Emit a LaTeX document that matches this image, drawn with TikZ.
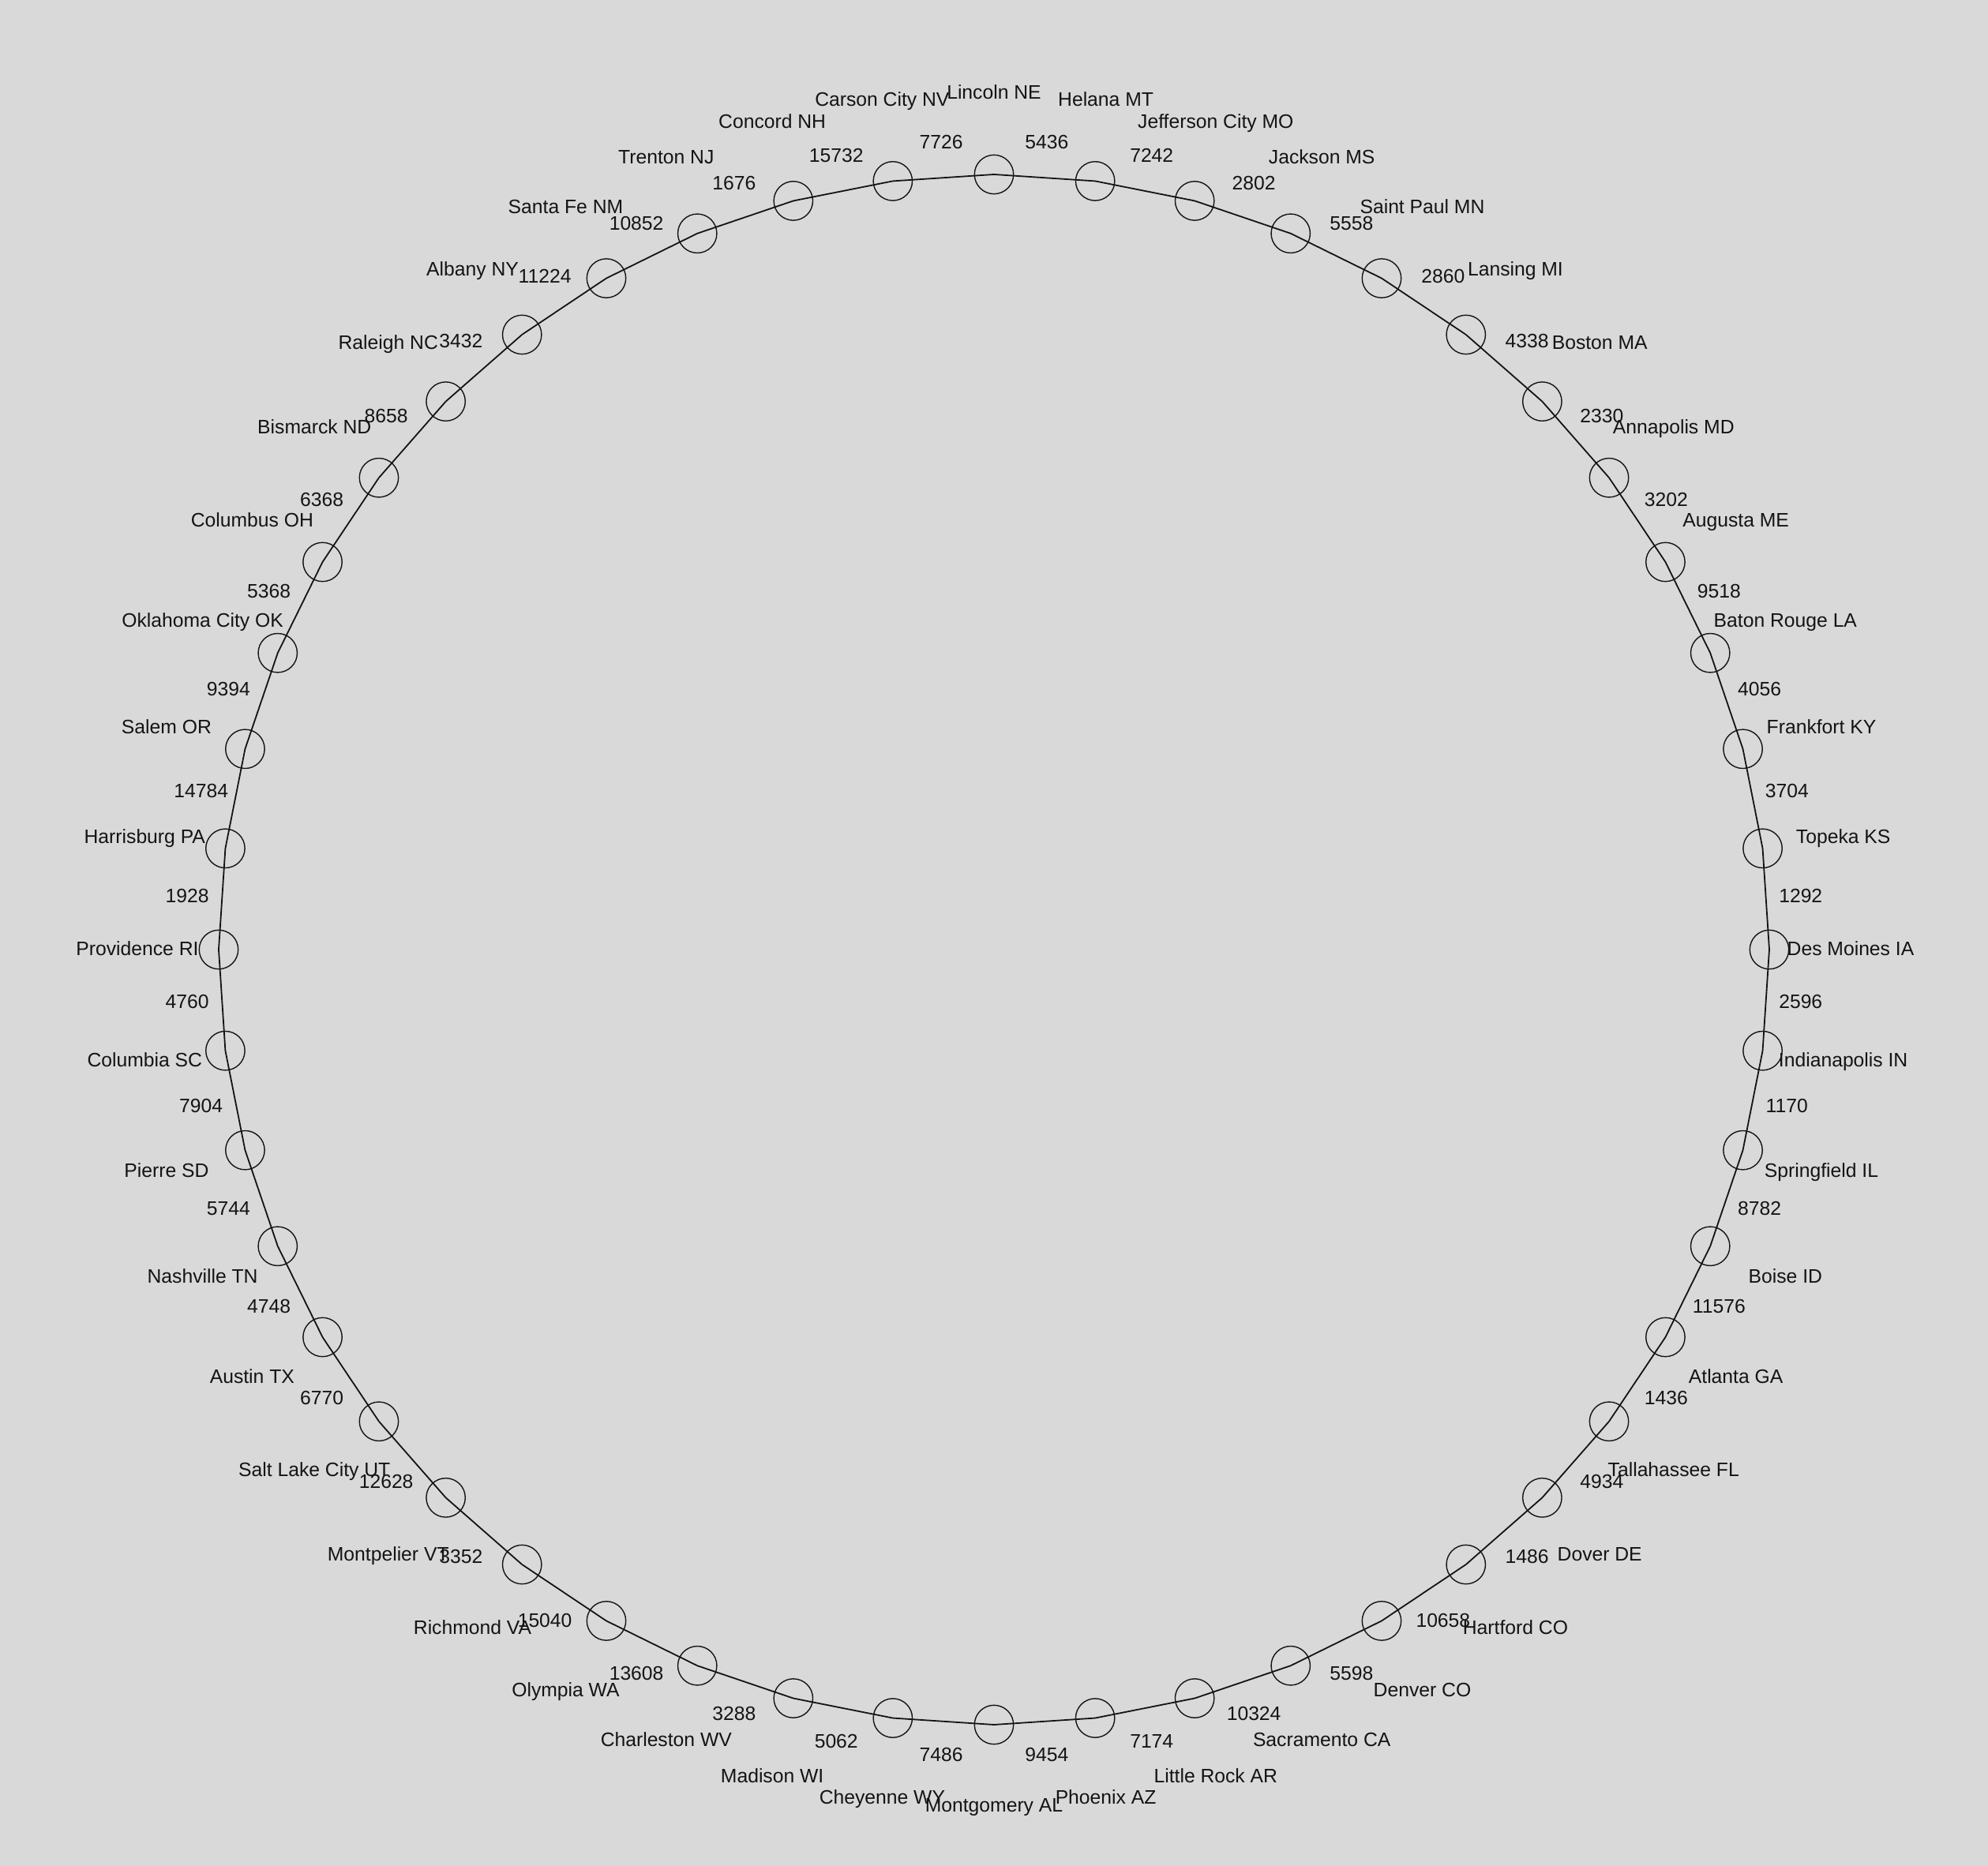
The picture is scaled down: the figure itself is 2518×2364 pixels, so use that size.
\documentclass[tikz,border=0pt]{standalone}
\usepackage{tikz}
\usepackage{xcolor}
\usepackage{fontspec}
\setmainfont{Liberation Sans}
\usetikzlibrary{positioning,calc}
\definecolor{bggray}{RGB}{217,217,217}
\definecolor{inkblack}{RGB}{20,20,20}

\begin{document}
\begin{tikzpicture}[
    x=0.5pt, y=0.5pt,
    every node/.style={font=\fontsize{12.35}{14}\selectfont, text=inkblack},
    city/.style={circle, draw=inkblack, line width=0.7pt, minimum size=24.7pt, inner sep=0pt},
    cityname/.style={inner sep=0pt, text height=0.72em, text depth=0pt},
    dist/.style={inner sep=0pt, text height=0.72em, text depth=0pt},
    tour/.style={draw=inkblack, line width=0.9pt}
]

% Background
\path[use as bounding box, fill=bggray] (-1259,-1161) rectangle (1259,1203);

% Capitals on the circle
\foreach \name [count=\i] in {Lincoln NE, Helana MT, Jefferson City MO, Jackson MS,
    Saint Paul MN, Lansing MI, Boston MA, Annapolis MD, Augusta ME, Baton Rouge LA,
    Frankfort KY, Topeka KS, Des Moines IA, Indianapolis IN, Springfield IL, Boise ID,
    Atlanta GA, Tallahassee FL, Dover DE, Hartford CO, Denver CO, Sacramento CA,
    Little Rock AR, Phoenix AZ, Montgomery AL, Cheyenne WY, Madison WI, Charleston WV,
    Olympia WA, Richmond VA, Montpelier VT, Salt Lake City UT, Austin TX, Nashville TN,
    Pierre SD, Columbia SC, Providence RI, Harrisburg PA, Salem OR, Oklahoma City OK,
    Columbus OH, Bismarck ND, Raleigh NC, Albany NY, Santa Fe NM, Trenton NJ,
    Concord NH, Carson City NV} {
    \node[city] (c\i) at ({90-7.5*(\i-1)}:982) {};
    \node[cityname] (name\i) at ({90-7.5*(\i-1)}:1085) {\name};
}

% Tour edges with distances
\foreach \d [count=\i] in {5436, 7242, 2802, 5558, 2860, 4338, 2330, 3202, 9518, 4056,
    3704, 1292, 2596, 1170, 8782, 11576, 1436, 4934, 1486, 10658, 5598, 10324, 7174,
    9454, 7486, 5062, 3288, 13608, 15040, 3352, 12628, 6770, 4748, 5744, 7904, 4760,
    1928, 14784, 9394, 5368, 6368, 8658, 3432, 11224, 10852, 1676, 15732, 7726} {
    \pgfmathtruncatemacro{\j}{mod(\i,48)+1}
    \draw[tour] (c\i.center) -- (c\j.center);
    \node[dist] (d\i) at ({90-7.5*(\i-0.5)}:1024) {\d};
}

\end{tikzpicture}
\end{document}
